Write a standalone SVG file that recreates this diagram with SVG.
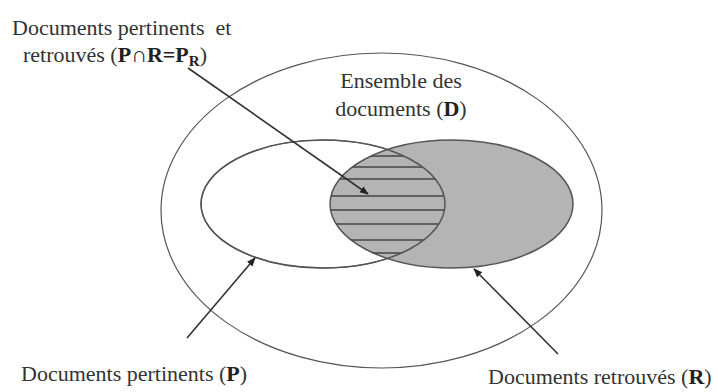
<svg xmlns="http://www.w3.org/2000/svg" width="718" height="392" viewBox="0 0 718 392">
<style>
text{font-family:'Liberation Serif','DejaVu Serif',serif;font-size:22px;fill:#333;white-space:pre}
.b{font-weight:bold;fill:#222}
.ell{stroke:#555;stroke-width:1.2}
.hatch{stroke:#444;stroke-width:1.6}
.conn{stroke:#333;stroke-width:1.6;fill:none;marker-end:url(#ah)}
</style>
<defs>
<marker id="ah" viewBox="0 0 10 10" refX="9" refY="5" markerWidth="9" markerHeight="9" markerUnits="userSpaceOnUse" orient="auto">
<path d="M0,1 L10,5 L0,9 z" fill="#222"/>
</marker>
<clipPath id="clipP"><ellipse cx="323" cy="204" rx="122" ry="64"/></clipPath>
<clipPath id="clipR"><ellipse cx="451.5" cy="204" rx="121.5" ry="64"/></clipPath>
</defs>
<rect width="718" height="392" fill="#fff"/>
<g id="D">
<ellipse class="ell" cx="381.5" cy="210.5" rx="220.5" ry="157.5" fill="none"/>
<text x="401" y="88" text-anchor="middle" font-family="Liberation Serif, serif">Ensemble des</text>
<text x="401" y="116" text-anchor="middle" font-family="Liberation Serif, serif">documents (<tspan class="b">D</tspan>)</text>
</g>
<g id="P">
<ellipse class="ell" cx="323" cy="204" rx="122" ry="64" fill="#fff"/>
</g>
<g id="R">
<ellipse cx="451.5" cy="204" rx="121.5" ry="64" fill="#b4b4b4" stroke="#555" stroke-width="1.5"/>
</g>
<g id="PR">
<g clip-path="url(#clipP)"><g clip-path="url(#clipR)">
<line class="hatch" x1="320" y1="156" x2="460" y2="156"/>
<line class="hatch" x1="320" y1="167" x2="460" y2="167"/>
<line class="hatch" x1="320" y1="179" x2="460" y2="179"/>
<line class="hatch" x1="320" y1="196" x2="460" y2="196"/>
<line class="hatch" x1="320" y1="210" x2="460" y2="210"/>
<line class="hatch" x1="320" y1="224" x2="460" y2="224"/>
<line class="hatch" x1="320" y1="240" x2="460" y2="240"/>
<line class="hatch" x1="320" y1="253" x2="460" y2="253"/>
</g></g>
<ellipse cx="323" cy="204" rx="122" ry="64" fill="none" stroke="#555" stroke-width="1.5"/>
</g>
<g id="connectors">
<line class="conn" x1="188" y1="68" x2="368" y2="194"/>
<line class="conn" x1="187" y1="338" x2="255" y2="258"/>
<line class="conn" x1="558" y1="354" x2="474" y2="269"/>
</g>
<g id="label-PR">
<text x="12" y="35" font-family="Liberation Serif, serif">Documents pertinents  et</text>
<text x="23" y="62" font-family="Liberation Serif, serif">retrouvés (<tspan class="b">P∩R=P</tspan><tspan class="b" font-size="15" dy="4">R</tspan><tspan dy="-4">)</tspan></text>
</g>
<g id="label-P">
<text x="21" y="381" font-family="Liberation Serif, serif">Documents pertinents (<tspan class="b">P</tspan>)</text>
</g>
<g id="label-R">
<text x="488" y="384" font-family="Liberation Serif, serif">Documents retrouvés (<tspan class="b">R</tspan>)</text>
</g>
</svg>
